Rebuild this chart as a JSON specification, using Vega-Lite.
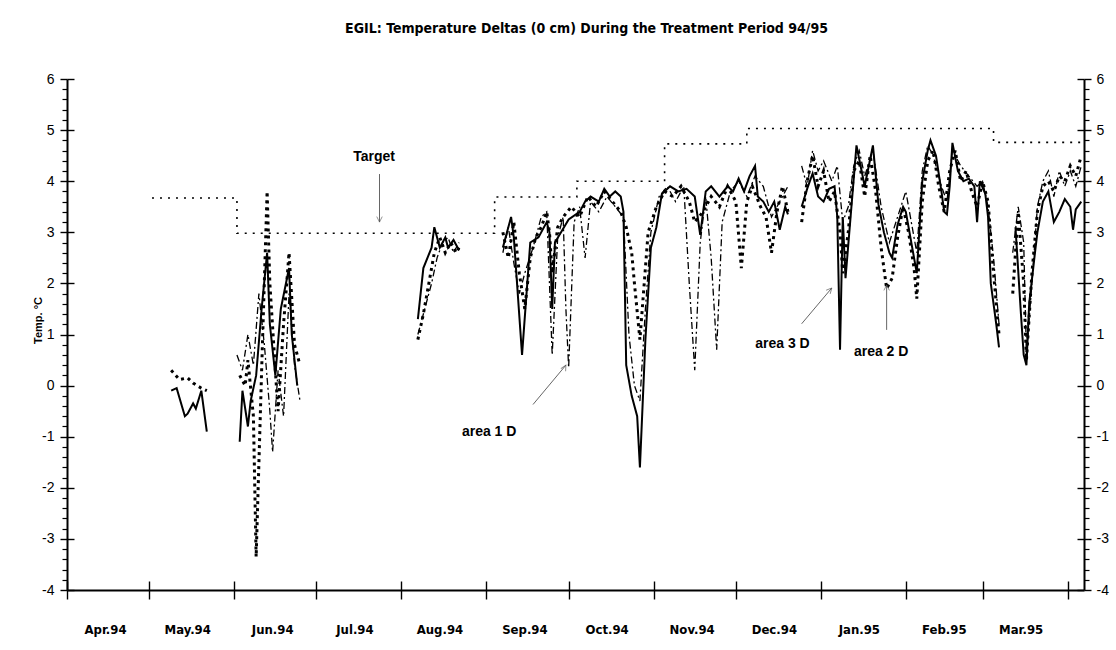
{
  "$schema": "https://vega.github.io/schema/vega-lite/v6.json",
  "width": 1017,
  "height": 511,
  "autosize": "none",
  "padding": {"left": 67, "top": 79, "right": 32, "bottom": 60},
  "background": "white",
  "title": {
    "text": "EGIL: Temperature Deltas (0 cm) During the Treatment Period 94/95",
    "font": "'DejaVu Sans Condensed', 'Liberation Sans Narrow', 'Liberation Sans', sans-serif",
    "fontSize": 14,
    "fontWeight": "bold",
    "color": "black",
    "anchor": "middle",
    "frame": "group",
    "offset": 36,
    "dx": 11
  },
  "config": {"view": {"stroke": null}},
  "datasets": {
    "target": [
      {"date": "1994-05-02", "v": 3.67},
      {"date": "1994-06-02", "v": 2.98},
      {"date": "1994-09-04", "v": 3.69},
      {"date": "1994-10-04", "v": 4.0},
      {"date": "1994-11-05", "v": 4.73},
      {"date": "1994-12-05", "v": 5.03},
      {"date": "1995-03-05", "v": 4.76},
      {"date": "1995-04-06", "v": 4.76}
    ],
    "lines": [
      {"series": "area 3 D", "seg": "A", "date": "1994-05-09", "v": -0.1},
      {"series": "area 3 D", "seg": "A", "date": "1994-05-11", "v": -0.05},
      {"series": "area 3 D", "seg": "A", "date": "1994-05-14", "v": -0.6},
      {"series": "area 3 D", "seg": "A", "date": "1994-05-15", "v": -0.55},
      {"series": "area 3 D", "seg": "A", "date": "1994-05-17", "v": -0.35},
      {"series": "area 3 D", "seg": "A", "date": "1994-05-18", "v": -0.45},
      {"series": "area 3 D", "seg": "A", "date": "1994-05-20", "v": -0.1},
      {"series": "area 3 D", "seg": "A", "date": "1994-05-22", "v": -0.9},
      {"series": "area 3 D", "seg": "B", "date": "1994-06-03", "v": -1.1},
      {"series": "area 3 D", "seg": "B", "date": "1994-06-04", "v": -0.1},
      {"series": "area 3 D", "seg": "B", "date": "1994-06-06", "v": -0.8},
      {"series": "area 3 D", "seg": "B", "date": "1994-06-07", "v": -0.3},
      {"series": "area 3 D", "seg": "B", "date": "1994-06-09", "v": 0.2},
      {"series": "area 3 D", "seg": "B", "date": "1994-06-11", "v": 1.5},
      {"series": "area 3 D", "seg": "B", "date": "1994-06-13", "v": 2.6},
      {"series": "area 3 D", "seg": "B", "date": "1994-06-14", "v": 1.2},
      {"series": "area 3 D", "seg": "B", "date": "1994-06-16", "v": 0.2},
      {"series": "area 3 D", "seg": "B", "date": "1994-06-18", "v": 1.5},
      {"series": "area 3 D", "seg": "B", "date": "1994-06-21", "v": 2.3},
      {"series": "area 3 D", "seg": "B", "date": "1994-06-22", "v": 1.0},
      {"series": "area 3 D", "seg": "B", "date": "1994-06-24", "v": 0.0},
      {"series": "area 3 D", "seg": "C", "date": "1994-08-07", "v": 1.3},
      {"series": "area 3 D", "seg": "C", "date": "1994-08-09", "v": 2.3},
      {"series": "area 3 D", "seg": "C", "date": "1994-08-12", "v": 2.7},
      {"series": "area 3 D", "seg": "C", "date": "1994-08-13", "v": 3.1},
      {"series": "area 3 D", "seg": "C", "date": "1994-08-15", "v": 2.7},
      {"series": "area 3 D", "seg": "C", "date": "1994-08-17", "v": 2.9},
      {"series": "area 3 D", "seg": "C", "date": "1994-08-18", "v": 2.7},
      {"series": "area 3 D", "seg": "C", "date": "1994-08-20", "v": 2.85},
      {"series": "area 3 D", "seg": "C", "date": "1994-08-22", "v": 2.65},
      {"series": "area 3 D", "seg": "D", "date": "1994-09-07", "v": 2.7},
      {"series": "area 3 D", "seg": "D", "date": "1994-09-10", "v": 3.3},
      {"series": "area 3 D", "seg": "D", "date": "1994-09-11", "v": 2.9},
      {"series": "area 3 D", "seg": "D", "date": "1994-09-14", "v": 0.6},
      {"series": "area 3 D", "seg": "D", "date": "1994-09-17", "v": 2.8},
      {"series": "area 3 D", "seg": "D", "date": "1994-09-20", "v": 2.9},
      {"series": "area 3 D", "seg": "D", "date": "1994-09-23", "v": 3.2},
      {"series": "area 3 D", "seg": "D", "date": "1994-09-24", "v": 3.0},
      {"series": "area 3 D", "seg": "D", "date": "1994-09-25", "v": 1.5},
      {"series": "area 3 D", "seg": "D", "date": "1994-09-26", "v": 2.8},
      {"series": "area 3 D", "seg": "D", "date": "1994-10-01", "v": 3.25},
      {"series": "area 3 D", "seg": "D", "date": "1994-10-05", "v": 3.4},
      {"series": "area 3 D", "seg": "D", "date": "1994-10-07", "v": 3.6},
      {"series": "area 3 D", "seg": "D", "date": "1994-10-09", "v": 3.7},
      {"series": "area 3 D", "seg": "D", "date": "1994-10-12", "v": 3.6},
      {"series": "area 3 D", "seg": "D", "date": "1994-10-14", "v": 3.85},
      {"series": "area 3 D", "seg": "D", "date": "1994-10-16", "v": 3.7},
      {"series": "area 3 D", "seg": "D", "date": "1994-10-18", "v": 3.8},
      {"series": "area 3 D", "seg": "D", "date": "1994-10-20", "v": 3.7},
      {"series": "area 3 D", "seg": "D", "date": "1994-10-21", "v": 3.4},
      {"series": "area 3 D", "seg": "D", "date": "1994-10-22", "v": 0.4},
      {"series": "area 3 D", "seg": "D", "date": "1994-10-24", "v": -0.2},
      {"series": "area 3 D", "seg": "D", "date": "1994-10-26", "v": -0.6},
      {"series": "area 3 D", "seg": "D", "date": "1994-10-27", "v": -1.6},
      {"series": "area 3 D", "seg": "D", "date": "1994-10-29", "v": 0.9},
      {"series": "area 3 D", "seg": "D", "date": "1994-10-31", "v": 2.7},
      {"series": "area 3 D", "seg": "D", "date": "1994-11-02", "v": 3.1},
      {"series": "area 3 D", "seg": "D", "date": "1994-11-04", "v": 3.75},
      {"series": "area 3 D", "seg": "D", "date": "1994-11-07", "v": 3.9},
      {"series": "area 3 D", "seg": "D", "date": "1994-11-10", "v": 3.8},
      {"series": "area 3 D", "seg": "D", "date": "1994-11-13", "v": 3.85},
      {"series": "area 3 D", "seg": "D", "date": "1994-11-16", "v": 3.7},
      {"series": "area 3 D", "seg": "D", "date": "1994-11-18", "v": 2.95},
      {"series": "area 3 D", "seg": "D", "date": "1994-11-20", "v": 3.8},
      {"series": "area 3 D", "seg": "D", "date": "1994-11-22", "v": 3.9},
      {"series": "area 3 D", "seg": "D", "date": "1994-11-25", "v": 3.7},
      {"series": "area 3 D", "seg": "D", "date": "1994-11-28", "v": 3.9},
      {"series": "area 3 D", "seg": "D", "date": "1994-11-30", "v": 3.8},
      {"series": "area 3 D", "seg": "D", "date": "1994-12-02", "v": 4.05},
      {"series": "area 3 D", "seg": "D", "date": "1994-12-04", "v": 3.8},
      {"series": "area 3 D", "seg": "D", "date": "1994-12-06", "v": 4.1},
      {"series": "area 3 D", "seg": "D", "date": "1994-12-08", "v": 4.3},
      {"series": "area 3 D", "seg": "D", "date": "1994-12-09", "v": 3.7},
      {"series": "area 3 D", "seg": "D", "date": "1994-12-11", "v": 3.6},
      {"series": "area 3 D", "seg": "D", "date": "1994-12-13", "v": 3.4},
      {"series": "area 3 D", "seg": "D", "date": "1994-12-15", "v": 3.6},
      {"series": "area 3 D", "seg": "D", "date": "1994-12-17", "v": 3.05},
      {"series": "area 3 D", "seg": "D", "date": "1994-12-19", "v": 3.5},
      {"series": "area 3 D", "seg": "D", "date": "1994-12-20", "v": 3.35},
      {"series": "area 3 D", "seg": "E", "date": "1994-12-25", "v": 3.5},
      {"series": "area 3 D", "seg": "E", "date": "1994-12-27", "v": 3.85},
      {"series": "area 3 D", "seg": "E", "date": "1994-12-29", "v": 4.15},
      {"series": "area 3 D", "seg": "E", "date": "1994-12-31", "v": 3.7},
      {"series": "area 3 D", "seg": "E", "date": "1995-01-02", "v": 3.6},
      {"series": "area 3 D", "seg": "E", "date": "1995-01-04", "v": 3.85},
      {"series": "area 3 D", "seg": "E", "date": "1995-01-06", "v": 3.9},
      {"series": "area 3 D", "seg": "E", "date": "1995-01-07", "v": 3.3},
      {"series": "area 3 D", "seg": "E", "date": "1995-01-08", "v": 0.7},
      {"series": "area 3 D", "seg": "E", "date": "1995-01-09", "v": 3.3},
      {"series": "area 3 D", "seg": "E", "date": "1995-01-10", "v": 2.1},
      {"series": "area 3 D", "seg": "E", "date": "1995-01-12", "v": 3.4},
      {"series": "area 3 D", "seg": "E", "date": "1995-01-14", "v": 4.7},
      {"series": "area 3 D", "seg": "E", "date": "1995-01-17", "v": 3.9},
      {"series": "area 3 D", "seg": "E", "date": "1995-01-20", "v": 4.7},
      {"series": "area 3 D", "seg": "E", "date": "1995-01-22", "v": 3.55},
      {"series": "area 3 D", "seg": "E", "date": "1995-01-24", "v": 3.0},
      {"series": "area 3 D", "seg": "E", "date": "1995-01-26", "v": 2.6},
      {"series": "area 3 D", "seg": "E", "date": "1995-01-27", "v": 2.5},
      {"series": "area 3 D", "seg": "E", "date": "1995-01-29", "v": 3.15},
      {"series": "area 3 D", "seg": "E", "date": "1995-01-31", "v": 3.5},
      {"series": "area 3 D", "seg": "E", "date": "1995-02-01", "v": 3.4},
      {"series": "area 3 D", "seg": "E", "date": "1995-02-02", "v": 3.1},
      {"series": "area 3 D", "seg": "E", "date": "1995-02-04", "v": 2.5},
      {"series": "area 3 D", "seg": "E", "date": "1995-02-05", "v": 2.2},
      {"series": "area 3 D", "seg": "E", "date": "1995-02-07", "v": 4.0},
      {"series": "area 3 D", "seg": "E", "date": "1995-02-09", "v": 4.6},
      {"series": "area 3 D", "seg": "E", "date": "1995-02-10", "v": 4.8},
      {"series": "area 3 D", "seg": "E", "date": "1995-02-12", "v": 4.5},
      {"series": "area 3 D", "seg": "E", "date": "1995-02-14", "v": 3.8},
      {"series": "area 3 D", "seg": "E", "date": "1995-02-15", "v": 3.4},
      {"series": "area 3 D", "seg": "E", "date": "1995-02-16", "v": 3.35},
      {"series": "area 3 D", "seg": "E", "date": "1995-02-17", "v": 3.9},
      {"series": "area 3 D", "seg": "E", "date": "1995-02-18", "v": 4.75},
      {"series": "area 3 D", "seg": "E", "date": "1995-02-20", "v": 4.2},
      {"series": "area 3 D", "seg": "E", "date": "1995-02-22", "v": 4.0},
      {"series": "area 3 D", "seg": "E", "date": "1995-02-24", "v": 4.05},
      {"series": "area 3 D", "seg": "E", "date": "1995-02-26", "v": 3.9},
      {"series": "area 3 D", "seg": "E", "date": "1995-02-27", "v": 3.2},
      {"series": "area 3 D", "seg": "E", "date": "1995-02-28", "v": 4.0},
      {"series": "area 3 D", "seg": "E", "date": "1995-03-02", "v": 3.75},
      {"series": "area 3 D", "seg": "E", "date": "1995-03-03", "v": 3.3},
      {"series": "area 3 D", "seg": "E", "date": "1995-03-04", "v": 2.0},
      {"series": "area 3 D", "seg": "E", "date": "1995-03-06", "v": 1.2},
      {"series": "area 3 D", "seg": "E", "date": "1995-03-07", "v": 0.75},
      {"series": "area 3 D", "seg": "F", "date": "1995-03-13", "v": 3.1},
      {"series": "area 3 D", "seg": "F", "date": "1995-03-15", "v": 1.4},
      {"series": "area 3 D", "seg": "F", "date": "1995-03-16", "v": 0.6},
      {"series": "area 3 D", "seg": "F", "date": "1995-03-17", "v": 0.4},
      {"series": "area 3 D", "seg": "F", "date": "1995-03-18", "v": 1.6},
      {"series": "area 3 D", "seg": "F", "date": "1995-03-20", "v": 2.55},
      {"series": "area 3 D", "seg": "F", "date": "1995-03-21", "v": 3.0},
      {"series": "area 3 D", "seg": "F", "date": "1995-03-23", "v": 3.6},
      {"series": "area 3 D", "seg": "F", "date": "1995-03-25", "v": 3.8},
      {"series": "area 3 D", "seg": "F", "date": "1995-03-27", "v": 3.2},
      {"series": "area 3 D", "seg": "F", "date": "1995-03-29", "v": 3.4},
      {"series": "area 3 D", "seg": "F", "date": "1995-03-31", "v": 3.65},
      {"series": "area 3 D", "seg": "F", "date": "1995-04-02", "v": 3.5},
      {"series": "area 3 D", "seg": "F", "date": "1995-04-03", "v": 3.05},
      {"series": "area 3 D", "seg": "F", "date": "1995-04-04", "v": 3.45},
      {"series": "area 3 D", "seg": "F", "date": "1995-04-06", "v": 3.6},

      {"series": "area 2 D", "seg": "A", "date": "1994-05-09", "v": 0.3},
      {"series": "area 2 D", "seg": "A", "date": "1994-05-12", "v": 0.12},
      {"series": "area 2 D", "seg": "A", "date": "1994-05-15", "v": 0.15},
      {"series": "area 2 D", "seg": "A", "date": "1994-05-17", "v": 0.05},
      {"series": "area 2 D", "seg": "A", "date": "1994-05-20", "v": -0.05},
      {"series": "area 2 D", "seg": "A", "date": "1994-05-22", "v": -0.1},
      {"series": "area 2 D", "seg": "B", "date": "1994-06-03", "v": 0.2},
      {"series": "area 2 D", "seg": "B", "date": "1994-06-05", "v": 0.0},
      {"series": "area 2 D", "seg": "B", "date": "1994-06-06", "v": 0.5},
      {"series": "area 2 D", "seg": "B", "date": "1994-06-08", "v": -0.6},
      {"series": "area 2 D", "seg": "B", "date": "1994-06-09", "v": -3.35},
      {"series": "area 2 D", "seg": "B", "date": "1994-06-11", "v": 0.3},
      {"series": "area 2 D", "seg": "B", "date": "1994-06-13", "v": 3.8},
      {"series": "area 2 D", "seg": "B", "date": "1994-06-14", "v": 2.0},
      {"series": "area 2 D", "seg": "B", "date": "1994-06-16", "v": 0.3},
      {"series": "area 2 D", "seg": "B", "date": "1994-06-17", "v": -0.5},
      {"series": "area 2 D", "seg": "B", "date": "1994-06-19", "v": 1.2},
      {"series": "area 2 D", "seg": "B", "date": "1994-06-21", "v": 2.6},
      {"series": "area 2 D", "seg": "B", "date": "1994-06-23", "v": 0.8},
      {"series": "area 2 D", "seg": "B", "date": "1994-06-25", "v": 0.4},
      {"series": "area 2 D", "seg": "C", "date": "1994-08-07", "v": 0.9},
      {"series": "area 2 D", "seg": "C", "date": "1994-08-09", "v": 1.4},
      {"series": "area 2 D", "seg": "C", "date": "1994-08-11", "v": 2.0},
      {"series": "area 2 D", "seg": "C", "date": "1994-08-13", "v": 2.6},
      {"series": "area 2 D", "seg": "C", "date": "1994-08-15", "v": 2.9},
      {"series": "area 2 D", "seg": "C", "date": "1994-08-17", "v": 2.6},
      {"series": "area 2 D", "seg": "C", "date": "1994-08-19", "v": 2.8},
      {"series": "area 2 D", "seg": "C", "date": "1994-08-21", "v": 2.6},
      {"series": "area 2 D", "seg": "C", "date": "1994-08-22", "v": 2.7},
      {"series": "area 2 D", "seg": "D", "date": "1994-09-07", "v": 3.0},
      {"series": "area 2 D", "seg": "D", "date": "1994-09-09", "v": 2.5},
      {"series": "area 2 D", "seg": "D", "date": "1994-09-11", "v": 3.2},
      {"series": "area 2 D", "seg": "D", "date": "1994-09-13", "v": 2.2},
      {"series": "area 2 D", "seg": "D", "date": "1994-09-15", "v": 1.5},
      {"series": "area 2 D", "seg": "D", "date": "1994-09-17", "v": 2.5},
      {"series": "area 2 D", "seg": "D", "date": "1994-09-19", "v": 2.9},
      {"series": "area 2 D", "seg": "D", "date": "1994-09-21", "v": 3.1},
      {"series": "area 2 D", "seg": "D", "date": "1994-09-23", "v": 3.4},
      {"series": "area 2 D", "seg": "D", "date": "1994-09-24", "v": 3.0},
      {"series": "area 2 D", "seg": "D", "date": "1994-09-25", "v": 2.2},
      {"series": "area 2 D", "seg": "D", "date": "1994-09-27", "v": 3.1},
      {"series": "area 2 D", "seg": "D", "date": "1994-09-29", "v": 3.3},
      {"series": "area 2 D", "seg": "D", "date": "1994-10-02", "v": 3.5},
      {"series": "area 2 D", "seg": "D", "date": "1994-10-05", "v": 3.3},
      {"series": "area 2 D", "seg": "D", "date": "1994-10-08", "v": 3.7},
      {"series": "area 2 D", "seg": "D", "date": "1994-10-11", "v": 3.5},
      {"series": "area 2 D", "seg": "D", "date": "1994-10-14", "v": 3.8},
      {"series": "area 2 D", "seg": "D", "date": "1994-10-17", "v": 3.6},
      {"series": "area 2 D", "seg": "D", "date": "1994-10-20", "v": 3.4},
      {"series": "area 2 D", "seg": "D", "date": "1994-10-22", "v": 3.1},
      {"series": "area 2 D", "seg": "D", "date": "1994-10-24", "v": 2.6},
      {"series": "area 2 D", "seg": "D", "date": "1994-10-25", "v": 2.0},
      {"series": "area 2 D", "seg": "D", "date": "1994-10-27", "v": 0.9},
      {"series": "area 2 D", "seg": "D", "date": "1994-10-28", "v": 1.6},
      {"series": "area 2 D", "seg": "D", "date": "1994-10-30", "v": 3.0},
      {"series": "area 2 D", "seg": "D", "date": "1994-11-02", "v": 3.5},
      {"series": "area 2 D", "seg": "D", "date": "1994-11-05", "v": 3.8},
      {"series": "area 2 D", "seg": "D", "date": "1994-11-08", "v": 3.7},
      {"series": "area 2 D", "seg": "D", "date": "1994-11-11", "v": 3.9},
      {"series": "area 2 D", "seg": "D", "date": "1994-11-14", "v": 3.6},
      {"series": "area 2 D", "seg": "D", "date": "1994-11-16", "v": 3.2},
      {"series": "area 2 D", "seg": "D", "date": "1994-11-19", "v": 3.4},
      {"series": "area 2 D", "seg": "D", "date": "1994-11-22", "v": 3.7},
      {"series": "area 2 D", "seg": "D", "date": "1994-11-25", "v": 3.5},
      {"series": "area 2 D", "seg": "D", "date": "1994-11-28", "v": 3.9},
      {"series": "area 2 D", "seg": "D", "date": "1994-12-01", "v": 3.6},
      {"series": "area 2 D", "seg": "D", "date": "1994-12-03", "v": 2.3},
      {"series": "area 2 D", "seg": "D", "date": "1994-12-05", "v": 3.6},
      {"series": "area 2 D", "seg": "D", "date": "1994-12-07", "v": 3.9},
      {"series": "area 2 D", "seg": "D", "date": "1994-12-10", "v": 3.5},
      {"series": "area 2 D", "seg": "D", "date": "1994-12-12", "v": 3.3},
      {"series": "area 2 D", "seg": "D", "date": "1994-12-14", "v": 2.6},
      {"series": "area 2 D", "seg": "D", "date": "1994-12-16", "v": 3.4},
      {"series": "area 2 D", "seg": "D", "date": "1994-12-18", "v": 3.9},
      {"series": "area 2 D", "seg": "D", "date": "1994-12-20", "v": 3.4},
      {"series": "area 2 D", "seg": "E", "date": "1994-12-25", "v": 3.2},
      {"series": "area 2 D", "seg": "E", "date": "1994-12-27", "v": 4.0},
      {"series": "area 2 D", "seg": "E", "date": "1994-12-29", "v": 4.5},
      {"series": "area 2 D", "seg": "E", "date": "1994-12-31", "v": 3.9},
      {"series": "area 2 D", "seg": "E", "date": "1995-01-02", "v": 4.2},
      {"series": "area 2 D", "seg": "E", "date": "1995-01-04", "v": 3.6},
      {"series": "area 2 D", "seg": "E", "date": "1995-01-06", "v": 3.8},
      {"series": "area 2 D", "seg": "E", "date": "1995-01-08", "v": 3.0},
      {"series": "area 2 D", "seg": "E", "date": "1995-01-09", "v": 2.2},
      {"series": "area 2 D", "seg": "E", "date": "1995-01-11", "v": 3.0},
      {"series": "area 2 D", "seg": "E", "date": "1995-01-13", "v": 4.2},
      {"series": "area 2 D", "seg": "E", "date": "1995-01-15", "v": 4.4},
      {"series": "area 2 D", "seg": "E", "date": "1995-01-17", "v": 3.7},
      {"series": "area 2 D", "seg": "E", "date": "1995-01-19", "v": 4.5},
      {"series": "area 2 D", "seg": "E", "date": "1995-01-21", "v": 3.8},
      {"series": "area 2 D", "seg": "E", "date": "1995-01-23", "v": 2.7},
      {"series": "area 2 D", "seg": "E", "date": "1995-01-25", "v": 1.9},
      {"series": "area 2 D", "seg": "E", "date": "1995-01-27", "v": 2.1},
      {"series": "area 2 D", "seg": "E", "date": "1995-01-29", "v": 2.9},
      {"series": "area 2 D", "seg": "E", "date": "1995-01-31", "v": 3.5},
      {"series": "area 2 D", "seg": "E", "date": "1995-02-02", "v": 3.0},
      {"series": "area 2 D", "seg": "E", "date": "1995-02-04", "v": 2.3},
      {"series": "area 2 D", "seg": "E", "date": "1995-02-05", "v": 1.7},
      {"series": "area 2 D", "seg": "E", "date": "1995-02-07", "v": 3.6},
      {"series": "area 2 D", "seg": "E", "date": "1995-02-09", "v": 4.4},
      {"series": "area 2 D", "seg": "E", "date": "1995-02-11", "v": 4.6},
      {"series": "area 2 D", "seg": "E", "date": "1995-02-13", "v": 3.9},
      {"series": "area 2 D", "seg": "E", "date": "1995-02-15", "v": 3.4},
      {"series": "area 2 D", "seg": "E", "date": "1995-02-17", "v": 4.2},
      {"series": "area 2 D", "seg": "E", "date": "1995-02-19", "v": 4.6},
      {"series": "area 2 D", "seg": "E", "date": "1995-02-21", "v": 4.0},
      {"series": "area 2 D", "seg": "E", "date": "1995-02-23", "v": 4.2},
      {"series": "area 2 D", "seg": "E", "date": "1995-02-25", "v": 3.8},
      {"series": "area 2 D", "seg": "E", "date": "1995-02-27", "v": 3.5},
      {"series": "area 2 D", "seg": "E", "date": "1995-03-01", "v": 4.0},
      {"series": "area 2 D", "seg": "E", "date": "1995-03-03", "v": 3.6},
      {"series": "area 2 D", "seg": "E", "date": "1995-03-05", "v": 2.2},
      {"series": "area 2 D", "seg": "E", "date": "1995-03-07", "v": 1.0},
      {"series": "area 2 D", "seg": "F", "date": "1995-03-12", "v": 1.8},
      {"series": "area 2 D", "seg": "F", "date": "1995-03-14", "v": 3.4},
      {"series": "area 2 D", "seg": "F", "date": "1995-03-16", "v": 2.0},
      {"series": "area 2 D", "seg": "F", "date": "1995-03-17", "v": 0.5},
      {"series": "area 2 D", "seg": "F", "date": "1995-03-19", "v": 2.2},
      {"series": "area 2 D", "seg": "F", "date": "1995-03-21", "v": 3.4},
      {"series": "area 2 D", "seg": "F", "date": "1995-03-23", "v": 3.9},
      {"series": "area 2 D", "seg": "F", "date": "1995-03-25", "v": 4.0},
      {"series": "area 2 D", "seg": "F", "date": "1995-03-27", "v": 3.8},
      {"series": "area 2 D", "seg": "F", "date": "1995-03-29", "v": 4.1},
      {"series": "area 2 D", "seg": "F", "date": "1995-03-31", "v": 4.0},
      {"series": "area 2 D", "seg": "F", "date": "1995-04-02", "v": 4.3},
      {"series": "area 2 D", "seg": "F", "date": "1995-04-04", "v": 4.1},
      {"series": "area 2 D", "seg": "F", "date": "1995-04-06", "v": 4.5},

      {"series": "area 1 D", "seg": "B", "date": "1994-06-02", "v": 0.6},
      {"series": "area 1 D", "seg": "B", "date": "1994-06-04", "v": 0.3},
      {"series": "area 1 D", "seg": "B", "date": "1994-06-06", "v": 1.0},
      {"series": "area 1 D", "seg": "B", "date": "1994-06-08", "v": 0.4},
      {"series": "area 1 D", "seg": "B", "date": "1994-06-10", "v": 1.8},
      {"series": "area 1 D", "seg": "B", "date": "1994-06-12", "v": 0.8},
      {"series": "area 1 D", "seg": "B", "date": "1994-06-14", "v": -0.5},
      {"series": "area 1 D", "seg": "B", "date": "1994-06-15", "v": -1.3},
      {"series": "area 1 D", "seg": "B", "date": "1994-06-17", "v": 0.3},
      {"series": "area 1 D", "seg": "B", "date": "1994-06-19", "v": -0.6},
      {"series": "area 1 D", "seg": "B", "date": "1994-06-21", "v": 1.8},
      {"series": "area 1 D", "seg": "B", "date": "1994-06-23", "v": 0.4},
      {"series": "area 1 D", "seg": "B", "date": "1994-06-25", "v": -0.3},
      {"series": "area 1 D", "seg": "C", "date": "1994-08-07", "v": 1.0},
      {"series": "area 1 D", "seg": "C", "date": "1994-08-10", "v": 1.6},
      {"series": "area 1 D", "seg": "C", "date": "1994-08-12", "v": 2.0},
      {"series": "area 1 D", "seg": "C", "date": "1994-08-14", "v": 2.5},
      {"series": "area 1 D", "seg": "C", "date": "1994-08-16", "v": 2.8},
      {"series": "area 1 D", "seg": "C", "date": "1994-08-18", "v": 2.9},
      {"series": "area 1 D", "seg": "C", "date": "1994-08-20", "v": 2.6},
      {"series": "area 1 D", "seg": "C", "date": "1994-08-22", "v": 2.8},
      {"series": "area 1 D", "seg": "D", "date": "1994-09-07", "v": 2.6},
      {"series": "area 1 D", "seg": "D", "date": "1994-09-09", "v": 3.1},
      {"series": "area 1 D", "seg": "D", "date": "1994-09-11", "v": 2.4},
      {"series": "area 1 D", "seg": "D", "date": "1994-09-13", "v": 1.8},
      {"series": "area 1 D", "seg": "D", "date": "1994-09-15", "v": 2.2},
      {"series": "area 1 D", "seg": "D", "date": "1994-09-18", "v": 2.7},
      {"series": "area 1 D", "seg": "D", "date": "1994-09-21", "v": 3.3},
      {"series": "area 1 D", "seg": "D", "date": "1994-09-23", "v": 3.4},
      {"series": "area 1 D", "seg": "D", "date": "1994-09-24", "v": 2.0},
      {"series": "area 1 D", "seg": "D", "date": "1994-09-25", "v": 0.6},
      {"series": "area 1 D", "seg": "D", "date": "1994-09-27", "v": 2.9},
      {"series": "area 1 D", "seg": "D", "date": "1994-09-29", "v": 3.3},
      {"series": "area 1 D", "seg": "D", "date": "1994-09-30", "v": 1.5},
      {"series": "area 1 D", "seg": "D", "date": "1994-10-01", "v": 0.35},
      {"series": "area 1 D", "seg": "D", "date": "1994-10-03", "v": 3.2},
      {"series": "area 1 D", "seg": "D", "date": "1994-10-05", "v": 3.5},
      {"series": "area 1 D", "seg": "D", "date": "1994-10-07", "v": 2.5},
      {"series": "area 1 D", "seg": "D", "date": "1994-10-09", "v": 3.6},
      {"series": "area 1 D", "seg": "D", "date": "1994-10-12", "v": 3.4},
      {"series": "area 1 D", "seg": "D", "date": "1994-10-15", "v": 3.7},
      {"series": "area 1 D", "seg": "D", "date": "1994-10-18", "v": 3.5},
      {"series": "area 1 D", "seg": "D", "date": "1994-10-21", "v": 3.3},
      {"series": "area 1 D", "seg": "D", "date": "1994-10-23", "v": 1.0},
      {"series": "area 1 D", "seg": "D", "date": "1994-10-25", "v": 0.0},
      {"series": "area 1 D", "seg": "D", "date": "1994-10-27", "v": -0.3},
      {"series": "area 1 D", "seg": "D", "date": "1994-10-29", "v": 1.5},
      {"series": "area 1 D", "seg": "D", "date": "1994-10-31", "v": 3.0},
      {"series": "area 1 D", "seg": "D", "date": "1994-11-03", "v": 3.7},
      {"series": "area 1 D", "seg": "D", "date": "1994-11-06", "v": 3.9},
      {"series": "area 1 D", "seg": "D", "date": "1994-11-09", "v": 3.6},
      {"series": "area 1 D", "seg": "D", "date": "1994-11-12", "v": 3.9},
      {"series": "area 1 D", "seg": "D", "date": "1994-11-14", "v": 2.0},
      {"series": "area 1 D", "seg": "D", "date": "1994-11-16", "v": 0.3},
      {"series": "area 1 D", "seg": "D", "date": "1994-11-18", "v": 2.8},
      {"series": "area 1 D", "seg": "D", "date": "1994-11-20", "v": 3.7},
      {"series": "area 1 D", "seg": "D", "date": "1994-11-22", "v": 2.5},
      {"series": "area 1 D", "seg": "D", "date": "1994-11-24", "v": 0.7},
      {"series": "area 1 D", "seg": "D", "date": "1994-11-26", "v": 3.2},
      {"series": "area 1 D", "seg": "D", "date": "1994-11-29", "v": 3.8},
      {"series": "area 1 D", "seg": "D", "date": "1994-12-02", "v": 4.0},
      {"series": "area 1 D", "seg": "D", "date": "1994-12-05", "v": 3.7},
      {"series": "area 1 D", "seg": "D", "date": "1994-12-08", "v": 4.1},
      {"series": "area 1 D", "seg": "D", "date": "1994-12-11", "v": 3.9},
      {"series": "area 1 D", "seg": "D", "date": "1994-12-14", "v": 3.3},
      {"series": "area 1 D", "seg": "D", "date": "1994-12-17", "v": 3.6},
      {"series": "area 1 D", "seg": "D", "date": "1994-12-20", "v": 3.9},
      {"series": "area 1 D", "seg": "E", "date": "1994-12-25", "v": 4.3},
      {"series": "area 1 D", "seg": "E", "date": "1994-12-27", "v": 3.9},
      {"series": "area 1 D", "seg": "E", "date": "1994-12-29", "v": 4.6},
      {"series": "area 1 D", "seg": "E", "date": "1994-12-31", "v": 4.2},
      {"series": "area 1 D", "seg": "E", "date": "1995-01-02", "v": 4.4},
      {"series": "area 1 D", "seg": "E", "date": "1995-01-05", "v": 4.0},
      {"series": "area 1 D", "seg": "E", "date": "1995-01-07", "v": 4.3},
      {"series": "area 1 D", "seg": "E", "date": "1995-01-09", "v": 3.2},
      {"series": "area 1 D", "seg": "E", "date": "1995-01-11", "v": 3.5},
      {"series": "area 1 D", "seg": "E", "date": "1995-01-13", "v": 4.3},
      {"series": "area 1 D", "seg": "E", "date": "1995-01-15", "v": 4.6},
      {"series": "area 1 D", "seg": "E", "date": "1995-01-17", "v": 4.1},
      {"series": "area 1 D", "seg": "E", "date": "1995-01-20", "v": 4.6},
      {"series": "area 1 D", "seg": "E", "date": "1995-01-23", "v": 3.5},
      {"series": "area 1 D", "seg": "E", "date": "1995-01-26", "v": 2.8},
      {"series": "area 1 D", "seg": "E", "date": "1995-01-29", "v": 3.3},
      {"series": "area 1 D", "seg": "E", "date": "1995-02-01", "v": 3.8},
      {"series": "area 1 D", "seg": "E", "date": "1995-02-03", "v": 3.2},
      {"series": "area 1 D", "seg": "E", "date": "1995-02-05", "v": 2.6},
      {"series": "area 1 D", "seg": "E", "date": "1995-02-07", "v": 4.2},
      {"series": "area 1 D", "seg": "E", "date": "1995-02-09", "v": 4.7},
      {"series": "area 1 D", "seg": "E", "date": "1995-02-11", "v": 4.5},
      {"series": "area 1 D", "seg": "E", "date": "1995-02-14", "v": 3.9},
      {"series": "area 1 D", "seg": "E", "date": "1995-02-16", "v": 3.6},
      {"series": "area 1 D", "seg": "E", "date": "1995-02-18", "v": 4.6},
      {"series": "area 1 D", "seg": "E", "date": "1995-02-21", "v": 4.3},
      {"series": "area 1 D", "seg": "E", "date": "1995-02-24", "v": 4.1},
      {"series": "area 1 D", "seg": "E", "date": "1995-02-27", "v": 3.9},
      {"series": "area 1 D", "seg": "E", "date": "1995-03-01", "v": 4.0},
      {"series": "area 1 D", "seg": "E", "date": "1995-03-03", "v": 3.5},
      {"series": "area 1 D", "seg": "E", "date": "1995-03-05", "v": 2.5},
      {"series": "area 1 D", "seg": "E", "date": "1995-03-07", "v": 1.2},
      {"series": "area 1 D", "seg": "F", "date": "1995-03-12", "v": 2.6},
      {"series": "area 1 D", "seg": "F", "date": "1995-03-14", "v": 3.5},
      {"series": "area 1 D", "seg": "F", "date": "1995-03-16", "v": 2.8},
      {"series": "area 1 D", "seg": "F", "date": "1995-03-17", "v": 0.6},
      {"series": "area 1 D", "seg": "F", "date": "1995-03-19", "v": 2.0},
      {"series": "area 1 D", "seg": "F", "date": "1995-03-21", "v": 3.5},
      {"series": "area 1 D", "seg": "F", "date": "1995-03-23", "v": 4.0},
      {"series": "area 1 D", "seg": "F", "date": "1995-03-25", "v": 4.2},
      {"series": "area 1 D", "seg": "F", "date": "1995-03-27", "v": 3.7},
      {"series": "area 1 D", "seg": "F", "date": "1995-03-29", "v": 4.2},
      {"series": "area 1 D", "seg": "F", "date": "1995-03-31", "v": 3.9},
      {"series": "area 1 D", "seg": "F", "date": "1995-04-02", "v": 4.2},
      {"series": "area 1 D", "seg": "F", "date": "1995-04-04", "v": 3.9},
      {"series": "area 1 D", "seg": "F", "date": "1995-04-06", "v": 4.3}
    ],
    "notes": [
      {"label": "Target", "date": "1994-07-22", "v": 4.47},
      {"label": "area 1 D", "date": "1994-09-02", "v": -0.9},
      {"label": "area 3 D", "date": "1994-12-18", "v": 0.81},
      {"label": "area 2 D", "date": "1995-01-23", "v": 0.65}
    ],
    "arrows": [
      {"label": "Target", "date": "1994-07-24", "v": 4.14, "date2": "1994-07-24", "v2": 3.2},
      {"label": "area 1 D", "date": "1994-09-18", "v": -0.37, "date2": "1994-09-30", "v2": 0.4},
      {"label": "area 3 D", "date": "1994-12-25", "v": 1.21, "date2": "1995-01-05", "v2": 1.91},
      {"label": "area 2 D", "date": "1995-01-25", "v": 1.09, "date2": "1995-01-25", "v2": 1.97}
    ]
  },
  "resolve": {"axis": {"x": "independent", "y": "independent"}},
  "layer": [
    {
      "data": {"name": "target"},
      "mark": {"type": "line", "interpolate": "step-after", "color": "black", "strokeWidth": 1.6, "strokeDash": [2, 6]},
      "encoding": {
        "x": {
          "field": "date", "type": "temporal",
          "scale": {"type": "utc", "domain": [{"year": 1994, "month": 4, "date": 1, "utc": true}, {"year": 1995, "month": 4, "date": 7, "utc": true}]},
          "axis": {
            "orient": "bottom",
            "values": [
              {"year": 1994, "month": 4, "date": 1, "utc": true}, {"year": 1994, "month": 5, "date": 1, "utc": true},
              {"year": 1994, "month": 6, "date": 1, "utc": true}, {"year": 1994, "month": 7, "date": 1, "utc": true},
              {"year": 1994, "month": 8, "date": 1, "utc": true}, {"year": 1994, "month": 9, "date": 1, "utc": true},
              {"year": 1994, "month": 10, "date": 1, "utc": true}, {"year": 1994, "month": 11, "date": 1, "utc": true},
              {"year": 1994, "month": 12, "date": 1, "utc": true}, {"year": 1995, "month": 1, "date": 1, "utc": true},
              {"year": 1995, "month": 2, "date": 1, "utc": true}, {"year": 1995, "month": 3, "date": 1, "utc": true},
              {"year": 1995, "month": 4, "date": 1, "utc": true}
            ],
            "labels": false, "tickSize": 9, "tickWidth": 1.4, "tickColor": "black",
            "domainColor": "black", "domainWidth": 2, "grid": false, "title": null
          }
        },
        "y": {
          "field": "v", "type": "quantitative",
          "scale": {"domain": [-4, 6], "nice": false, "zero": false},
          "axis": {
            "orient": "left", "values": [-4, -3, -2, -1, 0, 1, 2, 3, 4, 5, 6],
            "tickSize": 7, "tickWidth": 1.4, "tickColor": "black",
            "domainColor": "black", "domainWidth": 2, "grid": false,
            "labelExpr": "'' + datum.value",
            "labelFont": "Liberation Sans", "labelFontSize": 14, "labelColor": "black", "labelPadding": 6, "labelFlush": false,
            "title": "Temp. °C", "titleFont": "Liberation Sans", "titleFontSize": 11, "titleFontWeight": "bold", "titleColor": "black",
            "titleX": -29, "titleY": 241, "titleAngle": -90, "titleAlign": "center", "titleBaseline": "middle"
          }
        }
      }
    },
    {
      "data": {"name": "lines"},
      "transform": [{"filter": "datum.series == 'area 3 D'"}],
      "mark": {"type": "line", "color": "black", "strokeWidth": 2},
      "encoding": {
        "detail": {"field": "seg", "type": "nominal"},
        "x": {
          "field": "date", "type": "temporal",
          "axis": {
            "orient": "bottom",
            "values": [
              {"year": 1994, "month": 4, "date": 1, "utc": true}, {"year": 1994, "month": 5, "date": 1, "utc": true},
              {"year": 1994, "month": 6, "date": 1, "utc": true}, {"year": 1994, "month": 7, "date": 1, "utc": true},
              {"year": 1994, "month": 8, "date": 1, "utc": true}, {"year": 1994, "month": 9, "date": 1, "utc": true},
              {"year": 1994, "month": 10, "date": 1, "utc": true}, {"year": 1994, "month": 11, "date": 1, "utc": true},
              {"year": 1994, "month": 12, "date": 1, "utc": true}, {"year": 1995, "month": 1, "date": 1, "utc": true},
              {"year": 1995, "month": 2, "date": 1, "utc": true}, {"year": 1995, "month": 3, "date": 1, "utc": true},
              {"year": 1995, "month": 4, "date": 1, "utc": true}
            ],
            "labels": false, "domain": false, "tickSize": -9, "tickWidth": 1.4, "tickColor": "black", "grid": false, "title": null
          }
        },
        "y": {
          "field": "v", "type": "quantitative",
          "axis": {
            "orient": "right", "values": [-4, -3, -2, -1, 0, 1, 2, 3, 4, 5, 6],
            "tickSize": 7, "tickWidth": 1.4, "tickColor": "black",
            "domainColor": "black", "domainWidth": 2, "grid": false,
            "labelExpr": "'' + datum.value",
            "labelFont": "Liberation Sans", "labelFontSize": 14, "labelColor": "black", "labelPadding": 5, "labelFlush": false,
            "title": null
          }
        }
      }
    },
    {
      "data": {"name": "lines"},
      "transform": [{"filter": "datum.series == 'area 2 D'"}],
      "mark": {"type": "line", "color": "black", "strokeWidth": 3, "strokeDash": [3, 4]},
      "encoding": {
        "detail": {"field": "seg", "type": "nominal"},
        "x": {
          "field": "date", "type": "temporal",
          "axis": {
            "orient": "bottom",
            "values": [
              {"year": 1994, "month": 4, "date": 1, "utc": true}, {"year": 1994, "month": 5, "date": 1, "utc": true},
              {"year": 1994, "month": 6, "date": 1, "utc": true}, {"year": 1994, "month": 7, "date": 1, "utc": true},
              {"year": 1994, "month": 8, "date": 1, "utc": true}, {"year": 1994, "month": 9, "date": 1, "utc": true},
              {"year": 1994, "month": 10, "date": 1, "utc": true}, {"year": 1994, "month": 11, "date": 1, "utc": true},
              {"year": 1994, "month": 12, "date": 1, "utc": true}, {"year": 1995, "month": 1, "date": 1, "utc": true},
              {"year": 1995, "month": 2, "date": 1, "utc": true}, {"year": 1995, "month": 3, "date": 1, "utc": true}
            ],
            "ticks": false, "tickSize": 0, "domain": false, "grid": false, "title": null,
            "labelExpr": "utcFormat(datum.value, '%b.%y')",
            "labelPadding": 33, "labelOffset": 38, "labelFlush": false, "labelOverlap": false,
            "labelFont": "'DejaVu Sans Condensed', 'Liberation Sans Narrow', 'Liberation Sans', sans-serif",
            "labelFontWeight": "bold", "labelFontSize": 13, "labelColor": "black"
          }
        },
        "y": {
          "field": "v", "type": "quantitative",
          "axis": {
            "orient": "left",
            "values": [-3.8, -3.6, -3.4, -3.2, -2.8, -2.6, -2.4, -2.2, -1.8, -1.6, -1.4, -1.2, -0.8, -0.6, -0.4, -0.2, 0.2, 0.4, 0.6, 0.8, 1.2, 1.4, 1.6, 1.8, 2.2, 2.4, 2.6, 2.8, 3.2, 3.4, 3.6, 3.8, 4.2, 4.4, 4.6, 4.8, 5.2, 5.4, 5.6, 5.8],
            "labels": false, "domain": false, "tickSize": 5, "tickWidth": 1.2, "tickColor": "black", "grid": false, "title": null
          }
        }
      }
    },
    {
      "data": {"name": "lines"},
      "transform": [{"filter": "datum.series == 'area 1 D'"}],
      "mark": {"type": "line", "color": "black", "strokeWidth": 1.3, "strokeDash": [7, 3, 2, 3]},
      "encoding": {
        "detail": {"field": "seg", "type": "nominal"},
        "x": {"field": "date", "type": "temporal", "axis": null},
        "y": {
          "field": "v", "type": "quantitative",
          "axis": {
            "orient": "right",
            "values": [-3.8, -3.6, -3.4, -3.2, -2.8, -2.6, -2.4, -2.2, -1.8, -1.6, -1.4, -1.2, -0.8, -0.6, -0.4, -0.2, 0.2, 0.4, 0.6, 0.8, 1.2, 1.4, 1.6, 1.8, 2.2, 2.4, 2.6, 2.8, 3.2, 3.4, 3.6, 3.8, 4.2, 4.4, 4.6, 4.8, 5.2, 5.4, 5.6, 5.8],
            "labels": false, "domain": false, "tickSize": 5, "tickWidth": 1.2, "tickColor": "black", "grid": false, "title": null
          }
        }
      }
    },
    {
      "data": {"name": "notes"},
      "mark": {"type": "text", "font": "Liberation Sans", "fontSize": 14, "fontWeight": "bold", "color": "black", "align": "center", "baseline": "middle"},
      "encoding": {
        "text": {"field": "label"},
        "x": {"field": "date", "type": "temporal", "axis": null},
        "y": {
          "field": "v", "type": "quantitative",
          "axis": {
            "orient": "left", "values": [-4, -3, -2, -1, 0, 1, 2, 3, 4, 5, 6],
            "labels": false, "domain": false, "tickSize": -7, "tickWidth": 1.4, "tickColor": "black", "grid": false, "title": null
          }
        }
      }
    },
    {
      "data": {"name": "arrows"},
      "mark": {"type": "rule", "color": "#555555", "strokeWidth": 0.9},
      "encoding": {
        "x": {"field": "date", "type": "temporal", "axis": null},
        "x2": {"field": "date2"},
        "y": {
          "field": "v", "type": "quantitative",
          "axis": {
            "orient": "right", "values": [-4, -3, -2, -1, 0, 1, 2, 3, 4, 5, 6],
            "labels": false, "domain": false, "tickSize": -7, "tickWidth": 1.4, "tickColor": "black", "grid": false, "title": null
          }
        },
        "y2": {"field": "v2"}
      }
    },
    {
      "data": {"name": "arrows"},
      "transform": [{"filter": "datum.label == 'Target'"}],
      "mark": {"type": "point", "shape": "M-0.5,-1L0,0L0.5,-1", "filled": false, "stroke": "#555555", "strokeWidth": 0.9, "size": 120, "angle": 0},
      "encoding": {
        "x": {"field": "date2", "type": "temporal", "axis": null},
        "y": {"field": "v2", "type": "quantitative", "axis": null}
      }
    },
    {
      "data": {"name": "arrows"},
      "transform": [{"filter": "datum.label == 'area 1 D'"}],
      "mark": {"type": "point", "shape": "M-0.5,-1L0,0L0.5,-1", "filled": false, "stroke": "#555555", "strokeWidth": 0.9, "size": 120, "angle": 209},
      "encoding": {
        "x": {"field": "date2", "type": "temporal", "axis": null},
        "y": {"field": "v2", "type": "quantitative", "axis": null}
      }
    },
    {
      "data": {"name": "arrows"},
      "transform": [{"filter": "datum.label == 'area 3 D'"}],
      "mark": {"type": "point", "shape": "M-0.5,-1L0,0L0.5,-1", "filled": false, "stroke": "#555555", "strokeWidth": 0.9, "size": 120, "angle": 222},
      "encoding": {
        "x": {"field": "date2", "type": "temporal", "axis": null},
        "y": {"field": "v2", "type": "quantitative", "axis": null}
      }
    },
    {
      "data": {"name": "arrows"},
      "transform": [{"filter": "datum.label == 'area 2 D'"}],
      "mark": {"type": "point", "shape": "M-0.5,-1L0,0L0.5,-1", "filled": false, "stroke": "#555555", "strokeWidth": 0.9, "size": 120, "angle": 180},
      "encoding": {
        "x": {"field": "date2", "type": "temporal", "axis": null},
        "y": {"field": "v2", "type": "quantitative", "axis": null}
      }
    }
  ]
}
